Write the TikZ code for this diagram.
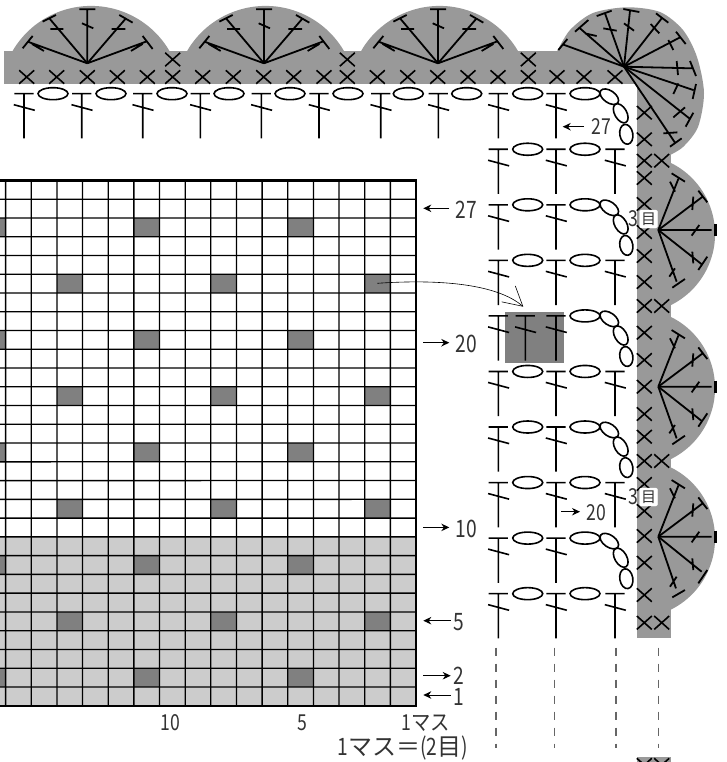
\documentclass[tikz,border=0pt]{standalone}
\usepackage{graphicx}
\usepackage{fontspec}
\newfontfamily\cjk{Noto Sans CJK JP}
\usetikzlibrary{
    arrows.meta,
    positioning
}
\definecolor{bandgray}{HTML}{999999}
\definecolor{cellgray}{HTML}{CCCCCC}
\definecolor{markgray}{HTML}{808080}
\definecolor{labgray}{HTML}{333333}
\tikzset{
    stitch/.style={line width=1.6pt, black},
    spoke/.style={line width=1.8pt, black},
    gridframe/.style={line width=2.2pt, black},
    rowmark/.style={line width=1pt, black, -{Stealth[length=8pt,width=7.5pt]}},
    guide/.style={line width=1.2pt, black!60, dash pattern=on 8pt off 8pt},
    biglab/.style={inner sep=0pt, text=labgray, font=\cjk\fontsize{24}{24}\selectfont},
    midlab/.style={inner sep=0pt, text=labgray, font=\cjk\fontsize{22}{22}\selectfont},
    meshbox/.style={inner sep=0pt, draw=white, fill=white, rounded corners=2pt, minimum size=18pt,
        text=labgray, font=\cjk\fontsize{15}{15}\selectfont}
}
\newcommand{\narrow}[1]{\scalebox{0.8}[1]{#1}}
% stitch symbols
\newcommand{\dcsym}[2]{\draw[stitch] (#1-9.6,#2) -- (#1+9.6,#2) (#1,#2) -- (#1,#2+44.7) (#1-10.2,#2+11) -- (#1+10.8,#2+16.6);}
\newcommand{\xsym}[2]{\draw[stitch] (#1-7.5,#2-6.7) -- (#1+7.5,#2+6.7) (#1-7.5,#2+6.7) -- (#1+7.5,#2-6.7);}
\newcommand{\loopsym}[5]{\draw[stitch, shift={(#1,#2)}, rotate=#3] (0,0) ellipse [x radius=#4, y radius=#5];}
\newcommand{\fan}[3]{%
    \begin{scope}[shift={(#1,#2)}, x=0.3333pt, y=-0.3333pt]
        \foreach \px/\py/\qx/\qy/\rx/\ry/\sx/\sy/\tx/\ty in #3 {
            \draw[spoke] (0,0) -- (\px,\py) (\qx,\qy) -- (\rx,\ry) (\sx,\sy) -- (\tx,\ty);
        }
    \end{scope}}
\newcommand{\tipbar}[2]{\draw[line width=3pt, black] (#1+57.3,#2-6) -- (#1+57.3,#2+6);}
\def\topspokes{-179/-65/-194/-45/-164/-82/-166/-58/-130/-37,
    -114/-135/-134/-125/-94/-145/-111/-103/-72/-103,
    0/-162/-24/-162/24/-162/-16/-120/18/-105,
    116/-135/96/-145/136/-122/73/-103/114/-103,
    176/-65/166/-82/196/-43/131/-37/166/-58}
\def\cornerspokes{-184/-67/-197/-50/-170/-83/0/0/0/0,
    -132/-115/-147/-105/-107/-140/-117/-100/-82/-92,
    -57/-160/-82/-152/-37/-168/-62/-115/-22/-108,
    18/-168/-2/-173/46/-164/0/-130/30/-108,
    113/-145/96/-160/133/-132/80/-128/106/-100,
    168/-88/156/-105/185/-68/133/-80/148/-50,
    208/5/198/-17/216/28/158/-17/162/25,
    208/70/216/52/206/97/163/50/148/82,
    196/155/208/138/185/180/183/122/148/152,
    153/228/173/215/138/240/160/197/118/200}
\def\sidespokes{60/-153/40/-170/80/-145/35/-145/50/-115,
    133/-100/120/-118/147/-83/105/-100/102/-60,
    160/0/0/0/0/0/100/17/123/-15,
    133/105/147/80/120/120/102/65/105/100,
    55/155/80/147/42/173/33/140/50/115}
\def\lastspokes{60/-153/40/-170/80/-145/35/-145/50/-115,
    133/-100/120/-118/147/-83/105/-100/102/-60,
    160/0/0/0/0/0/100/17/123/-15,
    130/105/147/100/120/140/102/65/105/100,
    53/155/80/160/42/182/35/150/55/120}
\begin{document}
\begin{tikzpicture}[x=1pt, y=-1pt]
    \useasboundingbox (0,0) rectangle (727,762);
    \clip (0,0) rectangle (727,762);

    % Edging band
    \fill[bandgray] (4,51) rectangle (637,84);
    \fill[bandgray] (637,51) rectangle (671,638);
    \fill[bandgray] (637,757) rectangle (671,762);
    \foreach \archx in {12,186.5,360.5} {
        \fill[bandgray] (\archx,52) arc [start angle=209.5, end angle=330.5, radius=90.8] -- cycle;
    }
    \foreach \archy in {162.5,316.5,467} {
        \fill[bandgray] (670,\archy) arc [start angle=-64.4, end angle=64.4, radius=79.3] -- cycle;
    }
    \fill[bandgray] plot[smooth] coordinates {(556.7,52) (570,30) (593,13) (627,7.3) (660,12) (683,30) (697,57) (704,93) (698,127) (683,147) (668,156)} -- (637,156) -- (637,52) -- cycle;

    % Edge stitches
    \foreach \xpos in {26.7,56.7,87.3,117.3,147.3,172.7,202.7,233.3,263.7,293.7,324,347.3,377.3,407.7,437.7,468,498,528.3,557,584,615} {
        \xsym{\xpos}{77}
    }
    \foreach \xpos in {172.7,347.3,528.3} {
        \xsym{\xpos}{59.5}
    }
    \foreach \ypos in {112.7,139.3,178,204,232,256,282,332.7,360,386.7,414,436.7,484,511,536,562.7,595} {
        \xsym{644.3}{\ypos}
    }
    \foreach \ypos in {160.7,306,461,622.7,765} {
        \xsym{644.3}{\ypos}
        \xsym{661.7}{\ypos}
    }
    \fan{87.3}{63.3}{\topspokes}
    \fan{264}{63.3}{\topspokes}
    \fan{438}{63.3}{\topspokes}
    \fan{624}{66.7}{\cornerspokes}
    \fan{658.3}{230}{\sidespokes}
    \fan{658.3}{386.7}{\sidespokes}
    \fan{658.3}{536.7}{\lastspokes}
    \tipbar{658.3}{230}
    \tipbar{658.3}{386.7}
    \tipbar{658.3}{536.7}

    % Marked patch
    \node[fill=markgray, inner sep=0pt, minimum width=59pt, minimum height=50.7pt] (patch) at (534.5,337.4) {};

    % Top row of the net
    \foreach \xpos in {24,81.7,142.7,200.3,261.3,319,380.7,438.3} {
        \dcsym{\xpos}{93.7}
    }
    \foreach \xpos in {53,111,172,229,290,348,408.3,466.7} {
        \loopsym{\xpos}{93.7}{0}{15}{6}
    }
    % Side columns of the net
    \foreach \k in {0,...,9} {
        \pgfmathsetmacro\rowy{93.7+55.55*\k}
        \dcsym{498.3}{\rowy}
        \dcsym{556}{\rowy}
        \loopsym{585}{\rowy}{0}{15}{6}
        \ifnum\k=4 \dcsym{525.3}{\rowy} \else \loopsym{527.7}{\rowy}{0}{15}{6} \fi
    }
    \foreach \rowy in {149.25,260.35,371.45,482.55,593.65} {
        \dcsym{615}{\rowy}
    }
    \foreach \rowy in {93.7,204.8,315.9,427,538.1} {
        \loopsym{609.3}{\rowy+3}{-35}{10.5}{6}
        \loopsym{620.7}{\rowy+19.6}{-60}{10.5}{6}
        \loopsym{626.3}{\rowy+40.6}{-80}{10}{6.5}
    }
    \foreach \xpos in {496,554.7,616,658.7} {
        \draw[guide] (\xpos,647.7) -- (\xpos,748.3);
    }

    % Filet chart
    \fill[cellgray] (-21,536.8) rectangle (416,705.7);
    \foreach \rowno/\colset in {2/{5,11,17},5/{2,8,14},8/{5,11,17},11/{2,8,14},14/{5,11,17},17/{2,8,14},20/{5,11,17},23/{2,8,14},26/{5,11,17}} {
        \foreach \colno in \colset {
            \fill[markgray] (416-25.65*\colno,705.7-18.76*\rowno) rectangle (416-25.65*\colno+25.65,705.7-18.76*\rowno+18.76);
        }
    }
    % grid lines, very slightly skewed so all of them come out the same weight
    \foreach \k in {1,...,27} {
        \pgfmathsetmacro\liney{705.7-18.76*\k}
        \fill[black] (-21,\liney-0.65) -- (416,\liney-0.65) -- (416,\liney+0.65) -- (-21,\liney+0.68) -- cycle;
    }
    \foreach \k in {1,...,16} {
        \pgfmathsetmacro\linex{416-25.65*\k}
        \fill[black] (\linex-0.65,180.5) -- (\linex+0.65,180.5) -- (\linex+0.68,705.7) -- (\linex-0.65,705.7) -- cycle;
    }
    \draw[gridframe] (-21,180.5) -- (416,180.5) -- (416,705.7) -- (-21,705.7);

    % Row marks
    \foreach \rowno/\rowy/\laby/\markfrom/\markto/\labx in {27/208.3/209.5/449.3/423.3/466,20/342.7/343.5/423.3/449.3/466,10/527.4/528.5/423.3/449.3/466,5/620.7/621.7/450.7/423.3/459.3,2/675.7/675.3/423.3/450.7/459.3,1/695/696.9/450.7/423.3/459.3} {
        \node[biglab] (row\rowno) at (\labx,\laby) {\narrow{\rowno}};
        \coordinate (markfrom\rowno) at (\markfrom,\rowy);
        \coordinate (markto\rowno) at (\markto,\rowy);
        \draw[rowmark] (markfrom\rowno) -- (markto\rowno);
    }
    \node[midlab] (side27) at (601.7,127) {\narrow{27}};
    \coordinate (side27a) at (584,126.7);
    \coordinate (side27b) at (562.7,126.7);
    \draw[rowmark] (side27a) -- (side27b);
    \node[midlab] (side20) at (596.7,512.7) {\narrow{20}};
    \coordinate (side20a) at (561,511.7);
    \coordinate (side20b) at (580,511.7);
    \draw[rowmark] (side20a) -- (side20b);

    % Column labels
    \node[midlab] (col10) at (170.7,722.7) {\narrow{10}};
    \node[midlab] (col5) at (302.7,722.7) {\narrow{5}};
    \node[midlab] (col1) at (425.5,722.7) {\narrow{1}\scalebox{0.88}[1]{マス}};
    \node[biglab] (legend) at (402.5,748) {\narrow{1}マス＝\narrow{(2}目\narrow{)}};

    % Stitch count labels
    \node[meshbox] (mesha) at (648.5,219) {目};
    \node[midlab, left=1pt of mesha] (counta) {\narrow{3}};
    \node[meshbox] (meshb) at (648.5,497) {目};
    \node[midlab, left=1pt of meshb] (countb) {\narrow{3}};

    % Pointer from chart to patch
    \coordinate (chartcell) at (377.3,283.3);
    \coordinate (patchtip) at (523.3,306.7);
    \draw[line width=0.6pt, -{Straight Barb[length=19pt,width=21pt]}] (chartcell) .. controls (440,279) and (497,284) .. (patchtip);
\end{tikzpicture}
\end{document}
